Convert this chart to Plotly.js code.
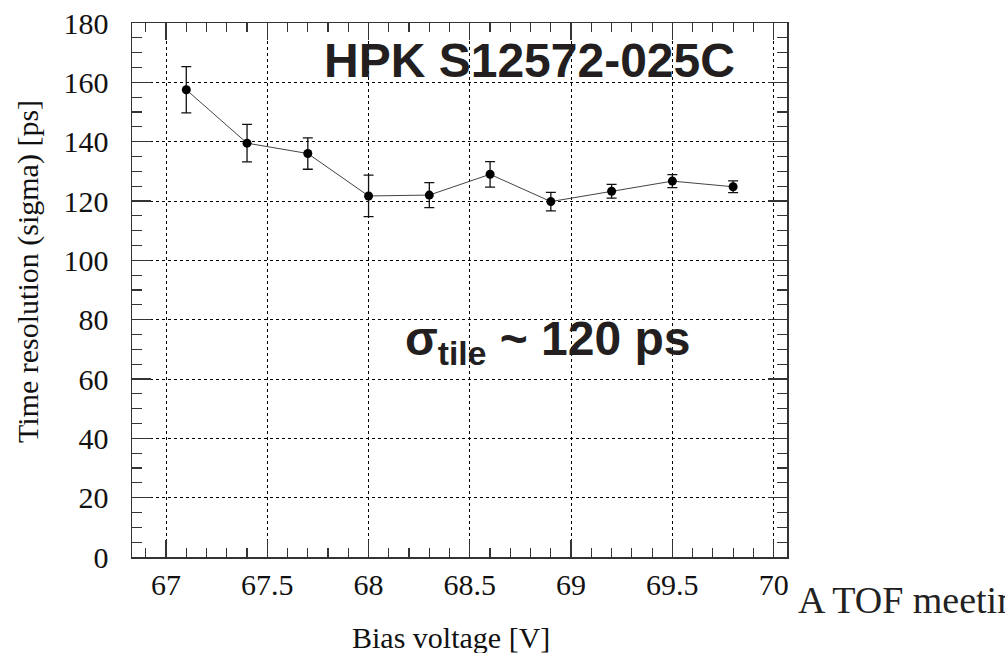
<!DOCTYPE html>
<html>
<head>
<meta charset="utf-8">
<script src="https://cdn.plot.ly/plotly-3.0.1.min.js"></script>
<style>html,body{margin:0;padding:0;background:#fff;}#chart{width:1005px;height:653px;}</style>
</head>
<body>
<div id="chart"></div>
<script>
// Data
const biasVoltage = [67.1, 67.4, 67.7, 68.0, 68.3, 68.6, 68.9, 69.2, 69.5, 69.8];
const timeResolution = [157.5, 139.5, 136.0, 121.7, 122.0, 129.0, 119.8, 123.3, 126.7, 124.8];
const resolutionError = [7.8, 6.3, 5.3, 7.0, 4.2, 4.3, 3.1, 2.3, 2.2, 2.0];

const xTitle = "Bias voltage [V]";
const yTitle = "Time resolution (sigma) [ps]";
const deviceLabel = "HPK S12572-025C";
const summaryLabel = "σ<sub>tile</sub> ~ 120 ps";
const sideText = "A TOF meeting";

const serif = "Liberation Serif, Times New Roman, serif";
const sans = "Liberation Sans, Arial, sans-serif";

const trace = {
  x: biasVoltage,
  y: timeResolution,
  type: "scatter",
  mode: "lines+markers",
  line: {color: "#444", width: 1},
  marker: {color: "#000", size: 9, symbol: "circle"},
  error_y: {type: "data", array: resolutionError, visible: true, color: "#111", thickness: 1.3, width: 5},
  showlegend: false,
  hoverinfo: "x+y"
};

const axisCommon = {
  showline: true, linecolor: "#333", linewidth: 1.5, mirror: "allticks",
  ticks: "inside", tickcolor: "#333", tickwidth: 1.2,
  showgrid: true, gridcolor: "#000", gridwidth: 1, griddash: "dot",
  zeroline: false,
  tickfont: {family: serif, size: 30, color: "#111"}
};

const layout = {
  width: 1005, height: 653,
  margin: {l: 132, r: 218, t: 23, b: 96, pad: 0},
  paper_bgcolor: "#fff", plot_bgcolor: "#fff",
  xaxis: Object.assign({}, axisCommon, {
    range: [66.832, 70.066], tick0: 67, dtick: 0.5, ticklen: 17,
    ticklabelstandoff: 0,
    minor: {dtick: 0.1, ticklen: 9, ticks: "inside", tickcolor: "#333", tickwidth: 1.2, showgrid: false}
  }),
  yaxis: Object.assign({}, axisCommon, {
    range: [0, 180], tick0: 0, dtick: 20, ticklen: 19,
    ticklabelstandoff: 16,
    minor: {dtick: 5, ticklen: 10, ticks: "inside", tickcolor: "#333", tickwidth: 1.2, showgrid: false}
  }),
  annotations: [
    // axis titles (placed as in the reference, not centred on the axes)
    {xref: "paper", yref: "paper", x: 0.487, y: -0.151, xanchor: "center", yanchor: "middle",
     text: xTitle, showarrow: false, font: {family: serif, size: 30, color: "#111"}},
    {xref: "paper", yref: "paper", x: -0.1588, y: 0.5356, xanchor: "center", yanchor: "middle",
     textangle: -90, text: yTitle, showarrow: false, font: {family: serif, size: 30, color: "#111"}},
    {xref: "paper", yref: "paper", x: 0.607, y: 0.93, xanchor: "center", yanchor: "middle",
     text: "<b>" + deviceLabel + "</b>", showarrow: false,
     font: {family: sans, size: 48, color: "#231f20"}},
    {xref: "paper", yref: "paper", x: 0.635, y: 0.403, xanchor: "center", yanchor: "middle",
     text: "<b>" + summaryLabel + "</b>", showarrow: false,
     font: {family: sans, size: 48, color: "#231f20"}},
    {xref: "paper", yref: "paper", x: 1.013, y: -0.08, xanchor: "left", yanchor: "middle",
     text: sideText, showarrow: false,
     font: {family: serif, size: 38, color: "#222"}}
  ]
};

Plotly.newPlot("chart", [trace], layout, {displayModeBar: false, staticPlot: true});
</script>
</body>
</html>
